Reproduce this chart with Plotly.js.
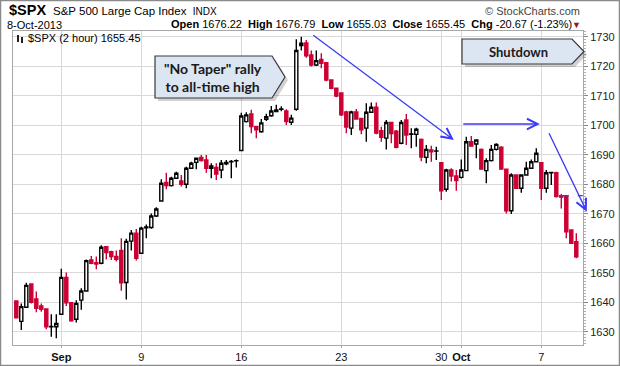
<!DOCTYPE html>
<html>
<head>
<meta charset="utf-8">
<script src="https://cdn.plot.ly/plotly-3.0.1.min.js"></script>
<style>
  html, body { margin: 0; padding: 0; background: #fff; }
  #chart { width: 620px; height: 366px; }
</style>
</head>
<body>
<div id="chart"></div>
<script>
// ---- data (2-hour bars, $SPX) ----
const tradingDays = ['2013-08-28','2013-08-29','2013-08-30','2013-09-03','2013-09-04','2013-09-05','2013-09-06',
  '2013-09-09','2013-09-10','2013-09-11','2013-09-12','2013-09-13','2013-09-16','2013-09-17','2013-09-18',
  '2013-09-19','2013-09-20','2013-09-23','2013-09-24','2013-09-25','2013-09-26','2013-09-27','2013-09-30',
  '2013-10-01','2013-10-02','2013-10-03','2013-10-04','2013-10-07','2013-10-08'];
const barSlots = ['10:00','12:00','14:00','16:00'];

const openVals = [1640.5,1633.6,1638.4,1646.3,1641.2,1638.8,1637.8,1631.8,1631.8,1636.0,
 1648.5,1639.9,1634.3,1640.8,1643.9,1654.4,1653.5,1653.3,1658.9,1657.2,
 1655.6,1657.6,1646.8,1660.8,1663.5,1656.7,1665.3,1665.4,1669.3,1674.4,
 1680.7,1679.6,1682.1,1681.2,1680.1,1685.5,1687.5,1689.2,1688.3,1685.5,
 1685.8,1684.9,1687.0,1687.7,1688.0,1691.5,1701.3,1703.9,1699.6,1697.9,
 1702.1,1703.3,1704.7,1705.5,1704.9,1701.1,1705.5,1727.1,1728.0,1723.9,
 1720.5,1722.4,1721.3,1715.4,1712.6,1711.0,1704.6,1699.1,1704.6,1702.4,
 1699.1,1704.5,1706.2,1698.2,1695.7,1701.0,1698.1,1694.0,1701.9,1697.0,
 1697.0,1695.3,1689.2,1691.7,1691.3,1687.4,1678.4,1684.9,1682.9,1682.4,
 1684.7,1694.5,1693.7,1691.9,1684.7,1688.1,1691.9,1692.6,1685.2,1671.1,
 1683.2,1678.7,1683.2,1685.5,1687.7,1687.4,1678.7,1684.0,1684.0,1676.22,
 1676.1,1664.6,1660.6];
const highVals = [1640.8,1639.7,1646.7,1646.5,1643.7,1639.7,1638.0,1636.0,1636.0,1651.4,
 1650.2,1640.2,1640.8,1644.8,1654.6,1655.8,1655.6,1659.4,1659.0,1657.5,
 1657.6,1661.8,1661.6,1664.6,1664.9,1665.7,1666.4,1670.2,1672.3,1681.8,
 1684.0,1682.6,1684.3,1683.2,1686.0,1687.7,1689.1,1690.0,1690.0,1687.2,
 1687.2,1688.3,1688.3,1688.3,1688.5,1704.3,1704.5,1705.3,1699.8,1702.2,
 1704.0,1706.6,1707.0,1706.5,1705.5,1703.6,1729.2,1730.1,1729.0,1725.4,
 1725.4,1724.5,1721.5,1715.6,1712.8,1711.3,1705.0,1705.0,1705.6,1702.6,
 1707.5,1707.8,1707.8,1699.6,1701.9,1701.3,1698.5,1701.9,1703.9,1699.1,
 1699.2,1695.6,1693.4,1693.1,1692.8,1687.6,1685.3,1685.5,1684.9,1688.5,
 1696.2,1696.4,1695.2,1692.2,1688.9,1693.4,1694.0,1693.0,1685.4,1683.8,
 1683.4,1683.4,1687.7,1688.5,1692.3,1687.6,1684.9,1684.3,1684.3,1676.79,
 1676.2,1664.8,1663.5];
const lowVals = [1634.6,1630.7,1638.2,1639.7,1636.7,1636.9,1630.9,1628.4,1627.9,1635.8,
 1638.8,1633.5,1633.2,1637.5,1643.7,1653.0,1651.3,1653.0,1654.6,1654.4,
 1653.9,1644.0,1641.0,1657.6,1654.2,1656.5,1661.8,1665.0,1669.0,1674.2,
 1678.4,1679.3,1682.0,1679.3,1678.7,1685.3,1685.2,1687.8,1684.0,1682.1,
 1681.5,1682.1,1686.5,1682.1,1685.8,1691.3,1701.0,1697.4,1695.7,1697.5,
 1701.5,1703.0,1704.5,1704.8,1700.2,1700.2,1705.0,1725.4,1723.0,1720.0,
 1720.2,1719.4,1715.0,1712.3,1709.6,1703.2,1697.4,1696.8,1702.0,1697.0,
 1694.5,1704.3,1697.0,1694.5,1691.9,1694.0,1692.3,1693.6,1693.4,1692.3,
 1692.8,1687.9,1687.2,1687.7,1688.3,1674.7,1677.5,1681.0,1677.9,1682.0,
 1684.5,1692.8,1688.9,1685.0,1680.4,1687.8,1691.5,1685.0,1670.2,1670.0,
 1678.5,1677.2,1683.0,1685.3,1687.5,1674.7,1677.2,1679.8,1675.6,1671.9,
 1661.8,1659.8,1655.03];
const closeVals = [1634.8,1638.6,1645.8,1640.1,1638.0,1637.7,1631.8,1631.9,1632.9,1648.5,
 1639.9,1633.8,1639.7,1643.9,1654.2,1653.3,1653.0,1658.7,1656.9,1655.6,
 1654.6,1646.7,1660.7,1663.5,1655.0,1665.2,1665.6,1669.3,1671.7,1680.4,
 1679.6,1682.1,1683.8,1680.1,1685.5,1687.2,1688.9,1688.1,1685.5,1686.3,
 1683.5,1687.2,1687.5,1687.8,1688.1,1703.2,1703.6,1699.6,1698.5,1700.9,
 1703.0,1704.9,1705.3,1705.6,1701.3,1702.5,1725.4,1727.9,1723.6,1720.5,
 1722.0,1721.1,1715.4,1712.6,1710.0,1703.6,1699.5,1704.6,1702.2,1698.5,
 1704.5,1706.2,1697.4,1696.0,1701.0,1697.3,1692.6,1701.0,1696.8,1697.1,
 1698.7,1689.3,1691.9,1691.1,1691.4,1677.9,1684.9,1682.9,1681.3,1684.9,
 1694.5,1693.0,1695.1,1685.2,1688.1,1691.9,1693.6,1685.2,1671.1,1683.2,
 1678.7,1683.2,1685.5,1687.7,1690.6,1678.7,1684.0,1684.1,1675.9,1675.7,
 1664.0,1660.1,1655.45];

const tickBars = ['2013-09-03 10:00','2013-09-09 10:00','2013-09-16 10:00','2013-09-23 10:00',
  '2013-09-30 10:00','2013-10-01 10:00','2013-10-07 10:00'];
const tickLabels = ['<b>Sep</b>','9','16','23','30','<b>Oct</b>','7'];
const yTicks = [1630,1640,1650,1660,1670,1680,1690,1700,1710,1720,1730];

// build bar labels (first day only has its last bar on the chart)
const barLabels = [];
tradingDays.forEach((d, i) => {
  (i === 0 ? barSlots.slice(3) : barSlots).forEach(s => barLabels.push(d + ' ' + s));
});

// ---- layout helpers (pixel -> paper) ----
const L = 13, R = 583, T = 31, B = 345;
const px = x => (x - L) / (R - L);
const py = y => (B - y) / (B - T);

const trace = {
  type: 'candlestick',
  x: barLabels, open: openVals, high: highVals, low: lowVals, close: closeVals,
  increasing: { line: { color: '#000000', width: 1.4 }, fillcolor: '#ffffff' },
  decreasing: { line: { color: '#cc0033', width: 1.4 }, fillcolor: '#cc0033' },
  whiskerwidth: 0,
  hoverinfo: 'skip',
  showlegend: false
};

const blue = '#3b3bf5';
const font = 'Liberation Sans, Arial, sans-serif';
function pent(x0, x1, xt, y0, y1) {
  const ym = (y0 + y1) / 2;
  return `M${px(x0)},${py(y0)} L${px(x1)},${py(y0)} L${px(xt)},${py(ym)} L${px(x1)},${py(y1)} L${px(x0)},${py(y1)} Z`;
}

const shapes = [
  // outer frame
  { type: 'rect', xref: 'paper', yref: 'paper', x0: px(0.5), x1: px(619.5), y0: py(365.5), y1: py(0.5),
    line: { color: '#8a8a8a', width: 1.5 }, layer: 'below' },
  // callout shadows + boxes
  { type: 'path', xref: 'paper', yref: 'paper', path: pent(158, 275, 288, 59, 101),
    fillcolor: 'rgba(0,0,0,0.18)', line: { width: 0 } },
  { type: 'path', xref: 'paper', yref: 'paper', path: pent(155, 272, 285, 56, 98),
    fillcolor: '#dce6f2', line: { color: '#3a3a3a', width: 1.2 } },
  { type: 'path', xref: 'paper', yref: 'paper', path: pent(465, 575, 587, 42, 67),
    fillcolor: 'rgba(0,0,0,0.18)', line: { width: 0 } },
  { type: 'path', xref: 'paper', yref: 'paper', path: pent(462, 572, 584, 39, 64),
    fillcolor: '#dce6f2', line: { color: '#3a3a3a', width: 1.2 } },
  // dashed level line at the day's open
  { type: 'line', xref: 'x', yref: 'y', x0: 108.7, x1: 113.3, y0: 1676.2, y1: 1676.2,
    line: { color: blue, width: 1.3, dash: 'dash' } },
  // small chart icon
  { type: 'rect', xref: 'paper', yref: 'paper', x0: px(17), x1: px(19), y0: py(42), y1: py(35),
    fillcolor: '#222', line: { width: 0 } },
  { type: 'rect', xref: 'paper', yref: 'paper', x0: px(21), x1: px(23), y0: py(43), y1: py(37),
    fillcolor: '#222', line: { width: 0 } }
];

const annotations = [
  { xref: 'paper', yref: 'paper', x: px(7), y: py(10), xanchor: 'left', yanchor: 'middle', showarrow: false,
    text: '<b>$SPX</b>', font: { family: font, size: 14.5, color: '#000' } },
  { xref: 'paper', yref: 'paper', x: px(51), y: py(11), xanchor: 'left', yanchor: 'middle', showarrow: false,
    text: 'S&amp;P 500 Large Cap Index  <span style="font-size:10px">INDX</span>', font: { family: font, size: 11.5, color: '#000' } },
  { xref: 'paper', yref: 'paper', x: px(582), y: py(11), xanchor: 'right', yanchor: 'middle', showarrow: false,
    text: '© StockCharts.com', font: { family: font, size: 11, color: '#444' } },
  { xref: 'paper', yref: 'paper', x: px(5), y: py(25), xanchor: 'left', yanchor: 'middle', showarrow: false,
    text: '8-Oct-2013', font: { family: font, size: 11, color: '#000' } },
  { xref: 'paper', yref: 'paper', x: px(574), y: py(24.5), xanchor: 'right', yanchor: 'middle', showarrow: false,
    text: '<b>Open</b> 1676.22  <b>High</b> 1676.79  <b>Low</b> 1655.03  <b>Close</b> 1655.45  <b>Chg</b> -20.67 (-1.23%)',
    font: { family: font, size: 11, color: '#000' } },
  { xref: 'paper', yref: 'paper', x: px(583), y: py(25), xanchor: 'right', yanchor: 'middle', showarrow: false,
    text: '▼', font: { family: font, size: 9, color: '#8b1a2b' } },
  { xref: 'paper', yref: 'paper', x: px(26), y: py(38), xanchor: 'left', yanchor: 'middle', showarrow: false,
    text: '$SPX (2 hour) 1655.45', font: { family: font, size: 11, color: '#000' } },
  { xref: 'paper', yref: 'paper', x: px(213), y: py(77), xanchor: 'center', yanchor: 'middle', showarrow: false,
    text: '<b>"No Taper" rally<br>to all-time high</b>', font: { family: 'Lato, Open Sans, sans-serif', size: 14, color: '#1a1a1a' } },
  { xref: 'paper', yref: 'paper', x: px(518), y: py(51.5), xanchor: 'center', yanchor: 'middle', showarrow: false,
    text: '<b>Shutdown</b>', font: { family: 'Lato, Open Sans, sans-serif', size: 13, color: '#1a1a1a' } },
  // blue arrows
  { xref: 'x', yref: 'y', axref: 'x', ayref: 'y', x: 87.5, y: 1695.1, ax: 59.1, ay: 1731.0, text: '',
    showarrow: true, arrowhead: 5, arrowsize: 1.6, arrowwidth: 1.3, arrowcolor: blue },
  { xref: 'x', yref: 'y', axref: 'x', ayref: 'y', x: 104.7, y: 1700.5, ax: 89.1, ay: 1700.5, text: '',
    showarrow: true, arrowhead: 5, arrowsize: 1.6, arrowwidth: 1.3, arrowcolor: blue },
  { xref: 'x', yref: 'y', axref: 'x', ayref: 'y', x: 114.1, y: 1670.8, ax: 106.4, ay: 1697.9, text: '',
    showarrow: true, arrowhead: 5, arrowsize: 1.6, arrowwidth: 1.3, arrowcolor: blue }
];

const layout = {
  width: 620, height: 366,
  margin: { l: L, r: 620 - R, t: T, b: 366 - B, pad: 0 },
  paper_bgcolor: '#ffffff', plot_bgcolor: '#ffffff',
  font: { family: font, size: 11, color: '#222' },
  showlegend: false,
  boxgap: 0.12,
  xaxis: {
    type: 'category', range: [-0.66, 113.34], rangeslider: { visible: false },
    tickmode: 'array', tickvals: tickBars, ticktext: tickLabels,
    showgrid: true, gridcolor: '#d9d9d9', gridwidth: 1,
    ticks: 'outside', ticklen: 2, tickcolor: '#aaa',
    showline: true, linecolor: '#a8a8a8', linewidth: 1, mirror: true,
    tickfont: { family: font, size: 11, color: '#111' }, fixedrange: true, zeroline: false
  },
  yaxis: {
    side: 'right', range: [1625.59, 1732.03], tickmode: 'array', tickvals: yTicks,
    showgrid: true, gridcolor: '#d9d9d9', gridwidth: 1,
    ticks: 'outside', ticklen: 4, tickcolor: '#888',
    minor: { dtick: 1, ticklen: 2, tickcolor: '#b0b0b0', ticks: 'outside', showgrid: false },
    showline: true, linecolor: '#a8a8a8', linewidth: 1, mirror: true,
    tickfont: { family: font, size: 11, color: '#222' }, fixedrange: true, zeroline: false
  },
  shapes: shapes,
  annotations: annotations
};

Plotly.newPlot('chart', [trace], layout, { staticPlot: true, displayModeBar: false });
</script>
</body>
</html>
